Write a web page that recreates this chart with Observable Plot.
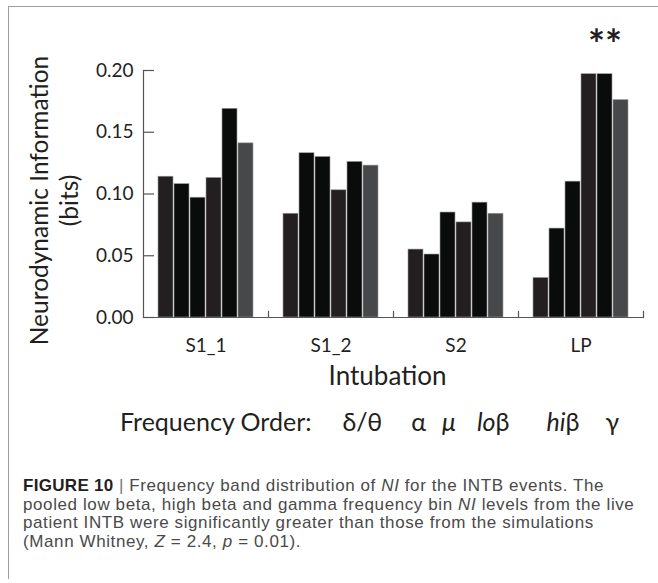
<!DOCTYPE html>
<html>
<head>
<meta charset="utf-8">
<script src="https://cdn.jsdelivr.net/npm/d3@7"></script>
<script src="https://cdn.jsdelivr.net/npm/@observablehq/plot@0.6"></script>
<style>
  body { margin: 0; background: #fff; }
  #fig { position: relative; width: 658px; height: 583px; overflow: hidden; font-family: Lato, sans-serif; color: #231f20; background: #fff; }
  #frame { position: absolute; z-index: 2; left: 8px; top: 6px; width: 700px; height: 572px; border-top: 1px solid #9d9d9d; border-left: 1px solid #9d9d9d; pointer-events: none; }
  #chart { position: absolute; left: 0; top: 0; }
  #legend { position: absolute; left: 120px; top: 406px; font-size: 25px; line-height: 30px; white-space: nowrap; }
  #legend span { display: inline-block; }
  #legend .it { font-style: italic; }
  #legend > span:nth-child(2) { margin-left: 31px; }
  #legend > span:nth-child(3) { margin-left: 29px; }
  #legend > span:nth-child(4) { margin-left: 16px; }
  #legend > span:nth-child(5) { margin-left: 21px; }
  #legend > span:nth-child(6) { margin-left: 37px; }
  #legend > span:nth-child(7) { margin-left: 26px; }
  #caption { position: absolute; left: 23px; top: 477px; width: 635px; font-family: "Liberation Sans", Arial, sans-serif; font-size: 17px; letter-spacing: 0.6px; line-height: 18.7px; color: #4a4a4a; white-space: nowrap; }
  #caption b { color: #231f20; letter-spacing: 0.3px; }
  #caption .bar { color: #777; }
</style>
</head>
<body>
<div id="fig">
  <div id="chart"></div>
  <div id="legend"></div>
  <div id="caption"></div>
  <div id="frame"></div>
</div>
<script>
// ---- data ----
const groups = ["S1_1", "S1_2", "S2", "LP"];
const bands = ["δ/θ", "α", "μ", "loβ", "hiβ", "γ"];
const valuesS1_1 = [0.114, 0.108, 0.097, 0.113, 0.169, 0.141];
const valuesS1_2 = [0.084, 0.133, 0.130, 0.103, 0.126, 0.123];
const valuesS2   = [0.055, 0.051, 0.085, 0.077, 0.093, 0.084];
const valuesLP   = [0.032, 0.072, 0.110, 0.197, 0.197, 0.176];
const yTicks = [0, 0.05, 0.10, 0.15, 0.20];
const yTitle = ["Neurodynamic Information", "(bits)"];
const xTitle = "Intubation";
const legendTitle = "Frequency Order:";
const sigGroup = "LP";
const sigBand = "hiβ";
const sigLabel = "**";
const captionLines = [
  "<b>FIGURE 10</b> <span class='bar'>|</span> Frequency band distribution of <i>NI</i> for the INTB events. The",
  "pooled low beta, high beta and gamma frequency bin <i>NI</i> levels from the live",
  "patient INTB were significantly greater than those from the simulations",
  "(Mann Whitney, <i>Z</i> = 2.4, <i>p</i> = 0.01)."
];

const series = [valuesS1_1, valuesS1_2, valuesS2, valuesLP];
const rows = groups.flatMap((g, i) => bands.map((b, j) => ({group: g, band: b, value: series[i][j]})));

// ---- layout ----
const W = 658, H = 400, mL = 143, mR = 15, mT = 70, mB = 83;
const innerH = H - mT - mB;
const axisColor = "#555";

const chart = Plot.plot({
  width: W, height: H,
  marginLeft: mL, marginRight: mR, marginTop: mT, marginBottom: mB,
  style: {fontFamily: "Lato, sans-serif", color: "#231f20", background: "transparent", overflow: "visible"},
  fx: {domain: groups, padding: 0, label: null},
  x: {domain: bands, paddingInner: 0.08, paddingOuter: 0.8, axis: null},
  y: {domain: [0, 0.2], axis: null},
  color: {domain: bands, range: ["#231f20", "#0a0c0b", "#0a0c0b", "#231f20", "#0a0c0b", "#47484a"]},
  marks: [
    Plot.barY(rows, {fx: "group", x: "band", y: "value", fill: "band", stroke: "#9a9a9a", strokeWidth: 0.6}),
    Plot.ruleY([0], {stroke: axisColor, strokeWidth: 1.2}),
    Plot.frame({anchor: "left", facetAnchor: "left", stroke: axisColor, strokeWidth: 1.2}),
    Plot.frame({anchor: "right", insetTop: innerH - 6, stroke: axisColor, strokeWidth: 1.2}),
    Plot.axisY({ticks: yTicks, tickFormat: d3.format(".2f"), tickSize: -11, tickPadding: 21, fontSize: 19, stroke: axisColor, strokeWidth: 1.2, label: null}),
    Plot.axisFx({anchor: "bottom", tickSize: 0, tickPadding: 21, fontSize: 19, label: null}),
    Plot.text([yTitle.join("\n")], {fx: () => groups[0], frameAnchor: "left", textAnchor: "middle", rotate: -90, lineAnchor: "top", lineHeight: 1.22, dx: -117, dy: 6.5, fontSize: 24.5}),
    Plot.text([xTitle], {facet: "super", frameAnchor: "bottom", dx: -6, dy: 67, fontSize: 26}),
    Plot.text([sigLabel], {fx: () => sigGroup, x: () => sigBand, frameAnchor: "top", dy: -40, fontSize: 40, fontWeight: "bold"})
  ]
});
document.getElementById("chart").appendChild(chart);

// ---- legend (frequency order) ----
const legend = document.getElementById("legend");
const t = document.createElement("span");
t.textContent = legendTitle;
legend.appendChild(t);
bands.forEach(b => {
  const s = document.createElement("span");
  const m = b.match(/^(lo|hi)(.*)$/);
  if (m) {
    s.innerHTML = `<span class="it">${m[1]}</span>${m[2]}`;
  } else if (b === "μ") {
    s.innerHTML = `<span class="it">${b}</span>`;
  } else {
    s.textContent = b;
  }
  legend.appendChild(s);
});

// ---- caption ----
document.getElementById("caption").innerHTML = captionLines.join("<br>");
</script>
</body>
</html>
